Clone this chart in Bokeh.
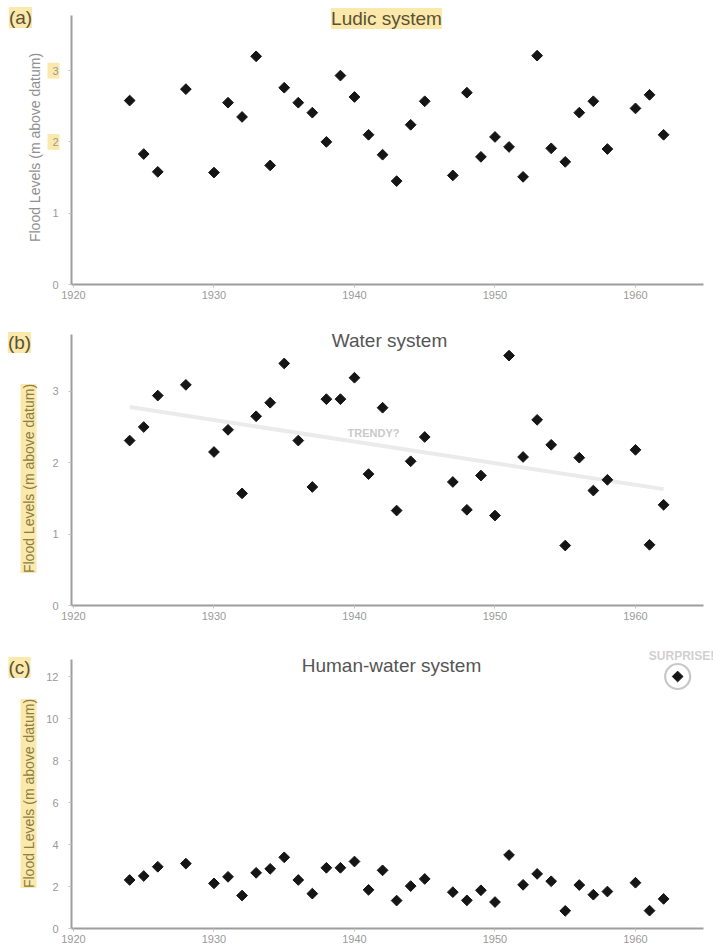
import numpy as np
from bokeh.plotting import figure
from bokeh.layouts import column
from bokeh.models import Label, Range1d, FixedTicker, BoxAnnotation
from bokeh.embed import file_html
from bokeh.resources import INLINE

years = [1924, 1925, 1926, 1928, 1930, 1931, 1932, 1933, 1934, 1935, 1936, 1937,
         1938, 1939, 1940, 1941, 1942, 1943, 1944, 1945, 1947, 1948, 1949, 1950,
         1951, 1952, 1953, 1954, 1955, 1956, 1957, 1958, 1960, 1961, 1962]
ludic_levels = [2.58, 1.83, 1.58, 2.74, 1.57, 2.55, 2.35, 3.20, 1.67, 2.76, 2.55, 2.41,
                2.00, 2.93, 2.63, 2.10, 1.82, 1.45, 2.24, 2.57, 1.53, 2.69, 1.79, 2.07,
                1.93, 1.51, 3.21, 1.91, 1.72, 2.41, 2.57, 1.90, 2.47, 2.66, 2.10]
water_levels = [2.31, 2.50, 2.94, 3.09, 2.15, 2.46, 1.57, 2.65, 2.84, 3.39, 2.31, 1.66,
                2.89, 2.89, 3.19, 1.84, 2.77, 1.33, 2.02, 2.36, 1.73, 1.34, 1.82, 1.26,
                3.50, 2.08, 2.60, 2.25, 0.84, 2.07, 1.61, 1.76, 2.18, 0.85, 1.41]
trend_years = [1924, 1962]
trend_levels = [2.78, 1.63]
surprise_year = [1963]
surprise_level = [12.0]
x_ticks = [1920, 1930, 1940, 1950, 1960]
y_ticks_ab = [0, 1, 2, 3]
y_ticks_c = [0, 2, 4, 6, 8, 10, 12]
highlighted_ticks_a = [2, 3]
titles = ["Ludic system", "Water system", "Human-water system"]
letters = ["(a)", "(b)", "(c)"]
y_label = "Flood Levels (m above datum)"

FONT = "Liberation Sans"
HL = "#fbe6a2"
W = 713
X0, X1 = 1919.86, 1964.84          # extent of the x axis line
AXIS_PX_L, AXIS_PX_R = 71, 703      # where that axis sits on the canvas
PPX = (AXIS_PX_R - AXIS_PX_L) / (X1 - X0)
XS = X0 - AXIS_PX_L / PPX


class Panel:
    def __init__(self, height, zero_px, ppu, axis_top, yticks):
        self.ppu = ppu
        self.y_end = zero_px / ppu
        y_start = -(height - zero_px) / ppu
        p = figure(width=W, height=height, output_backend="svg", toolbar_location=None,
                   x_range=Range1d(XS, XS + W / PPX), y_range=Range1d(y_start, self.y_end),
                   min_border_left=0, min_border_right=0,
                   min_border_top=0, min_border_bottom=0)
        p.outline_line_color = None
        p.grid.grid_line_color = None
        p.background_fill_color = "white"
        p.border_fill_color = "white"
        for ax in (p.xaxis, p.yaxis):
            ax.axis_line_color = "#9d9d9d"
            ax.axis_line_width = 2
            ax.major_tick_line_color = "#c4c4c4"
            ax.major_tick_out = 3
            ax.major_tick_in = 0
            ax.minor_tick_line_color = None
            ax.major_label_text_color = "#9a9a9a"
            ax.major_label_text_font = FONT
            ax.major_label_text_font_size = "11px"
        p.xaxis.ticker = FixedTicker(ticks=x_ticks)
        p.yaxis.ticker = FixedTicker(ticks=yticks)
        p.xaxis.fixed_location = 0
        p.xaxis.bounds = (X0, X1)
        p.yaxis.fixed_location = X0
        p.yaxis.bounds = (0, axis_top)
        p.xaxis.major_label_standoff = 3
        p.yaxis.major_label_standoff = 10
        self.p = p

    def dx(self, px):
        return XS + px / PPX

    def dy(self, py):
        return self.y_end - py / self.ppu

    def text(self, px, py, txt, size, color, bg=None, bold=False, angle=0.0):
        lab = Label(x=self.dx(px), y=self.dy(py), text=txt, text_align="center",
                    text_baseline="middle", text_font=FONT, text_font_size=size,
                    text_color=color, angle=angle, angle_units="rad")
        if bold:
            lab.text_font_style = "bold"
        if bg is not None:
            lab.background_fill_color = bg
            lab.background_fill_alpha = 0.9
        self.p.add_layout(lab)

    def diamonds(self, xs, ys):
        self.p.scatter(xs, ys, marker="square", angle=np.pi / 4, size=7.6,
                       fill_color="#151515", line_color="#151515")


# Panel (a)
A = Panel(310, 284, 71.3, 3.77, y_ticks_ab)
for t in highlighted_ticks_a:
    A.p.add_layout(BoxAnnotation(left=A.dx(47), right=A.dx(59), bottom=t - 0.11, top=t + 0.11,
                                 fill_color=HL, fill_alpha=0.9, line_color=None,
                                 level="underlay"))
A.diamonds(years, ludic_levels)
A.text(386, 18, titles[0], "19px", "#5a5232", bg=HL)
A.text(20, 17, letters[0], "19px", "#5a5232", bg=HL)
A.text(34, 147, y_label, "14px", "#909090", angle=np.pi / 2)

# Panel (b)
B = Panel(320, 295, 71.4, 3.8, y_ticks_ab)
B.p.line(trend_years, trend_levels, line_color="#ebebeb", line_width=4)
B.text(373, 122, "TRENDY?", "11px", "#cacaca", bold=True)
B.diamonds(years, water_levels)
B.text(389, 30, titles[1], "19px", "#555555")
B.text(19, 32, letters[1], "19px", "#5a5232", bg=HL)
B.text(28, 168, y_label, "14px", "#8a7d45", bg=HL, angle=np.pi / 2)

# Panel (c)
C = Panel(322, 298, 21.0, 12.8, y_ticks_c)
C.diamonds(years, water_levels)
C.p.scatter(surprise_year, surprise_level, marker="circle", size=25,
            fill_color=None, line_color="#c8c8c8", line_width=2.2)
C.diamonds(surprise_year, surprise_level)
C.text(681, 25, "SURPRISE!", "12px", "#d0d0d0", bold=True)
C.text(391, 35, titles[2], "19px", "#555555")
C.text(19, 37, letters[2], "19px", "#5a5232", bg=HL)
C.text(28, 163, y_label, "14px", "#8a7d45", bg=HL, angle=np.pi / 2)

layout = column(A.p, B.p, C.p, spacing=0)
open("out.html", "w").write(file_html(layout, INLINE))
